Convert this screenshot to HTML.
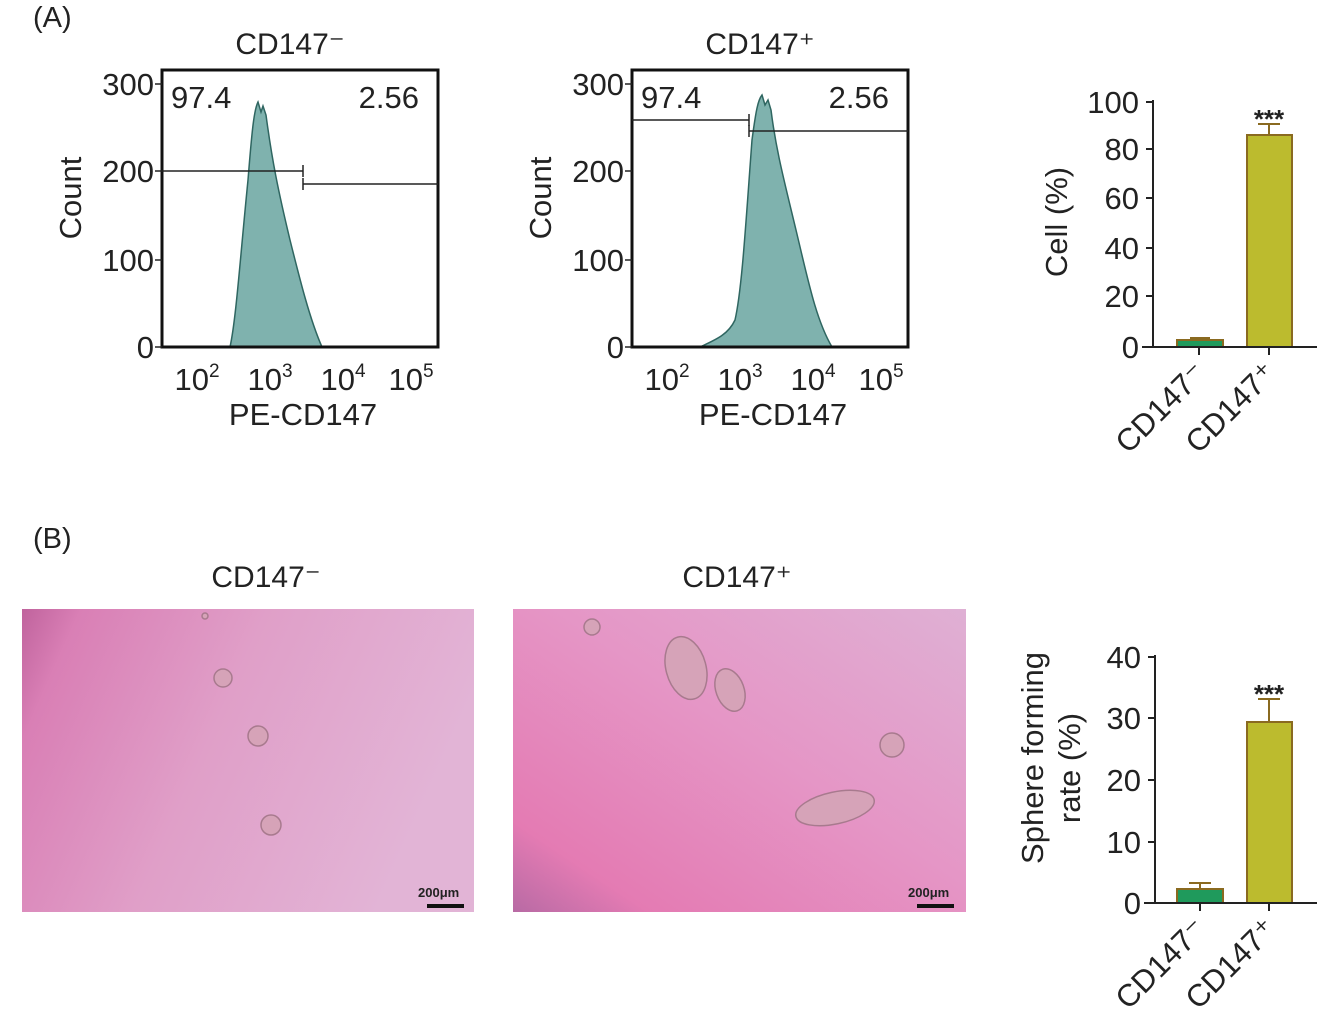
<!DOCTYPE html>
<html><head><meta charset="utf-8"><style>
body{margin:0;background:#fff}
svg text{font-family:"Liberation Sans",sans-serif;fill:#222}
</style></head><body>
<svg width="1321" height="1015" viewBox="0 0 1321 1015" xmlns="http://www.w3.org/2000/svg">
<defs>
<linearGradient id="g1" x1="0" y1="0" x2="1" y2="0.3">
<stop offset="0" stop-color="#c0639d"/><stop offset="0.12" stop-color="#d97fb5"/><stop offset="0.5" stop-color="#e09fc8"/><stop offset="1" stop-color="#e2b4d6"/></linearGradient>
<linearGradient id="g2" x1="0" y1="1" x2="1" y2="0">
<stop offset="0" stop-color="#b86aa4"/><stop offset="0.15" stop-color="#e47bb3"/><stop offset="0.55" stop-color="#e596c6"/><stop offset="1" stop-color="#dfb0d4"/></linearGradient>
</defs>
<g font-size="29">
<text x="33" y="27">(A)</text>
<text x="33" y="548">(B)</text>
</g>
<!-- Histogram 1 -->
<g>
<text x="290" y="54" font-size="30" text-anchor="middle">CD147⁻</text>
<path d="M230,347 C236,320 240,260 248,180 C252,130 254,110 258,102 L261,112 L263,106 L266,115 C272,160 278,190 290,240 C300,280 310,320 322,347 Z" fill="#7fb2ae" stroke="#2f6661" stroke-width="1.5"/>
<rect x="162" y="70" width="276" height="277" fill="none" stroke="#111" stroke-width="3"/>
<g stroke="#222" stroke-width="1.5">
<line x1="162" y1="171" x2="303" y2="171"/><line x1="303" y1="165" x2="303" y2="177"/>
<line x1="303" y1="184" x2="438" y2="184"/><line x1="303" y1="178" x2="303" y2="190"/>
<line x1="155" y1="84" x2="162" y2="84"/><line x1="155" y1="171" x2="162" y2="171"/><line x1="155" y1="260" x2="162" y2="260"/><line x1="155" y1="347" x2="162" y2="347"/>
</g>
<g font-size="31" text-anchor="end"><text x="154" y="95">300</text><text x="154" y="182">200</text><text x="154" y="271">100</text><text x="154" y="358">0</text></g>
<text x="171" y="108" font-size="31">97.4</text><text x="419" y="108" font-size="31" text-anchor="end">2.56</text>
<g font-size="31" text-anchor="middle"><text x="197" y="390">10<tspan font-size="19" dy="-13">2</tspan></text><text x="270" y="390">10<tspan font-size="19" dy="-13">3</tspan></text><text x="343" y="390">10<tspan font-size="19" dy="-13">4</tspan></text><text x="411" y="390">10<tspan font-size="19" dy="-13">5</tspan></text></g>
<text x="303" y="425" font-size="31" text-anchor="middle">PE-CD147</text>
<text transform="translate(81,198) rotate(-90)" font-size="31" text-anchor="middle">Count</text>
</g>
<!-- Histogram 2 -->
<g>
<text x="760" y="54" font-size="30" text-anchor="middle">CD147⁺</text>
<path d="M700,347 C715,340 728,335 735,320 C742,290 746,220 752,140 C756,110 758,100 762,95 L765,105 L768,100 L771,110 C776,150 784,180 796,230 C808,280 816,320 832,347 Z" fill="#7fb2ae" stroke="#2f6661" stroke-width="1.5"/>
<rect x="632" y="70" width="276" height="277" fill="none" stroke="#111" stroke-width="3"/>
<g stroke="#222" stroke-width="1.5">
<line x1="632" y1="120" x2="749" y2="120"/><line x1="749" y1="114" x2="749" y2="126"/>
<line x1="749" y1="131" x2="908" y2="131"/><line x1="749" y1="125" x2="749" y2="137"/>
<line x1="625" y1="84" x2="632" y2="84"/><line x1="625" y1="171" x2="632" y2="171"/><line x1="625" y1="260" x2="632" y2="260"/><line x1="625" y1="347" x2="632" y2="347"/>
</g>
<g font-size="31" text-anchor="end"><text x="624" y="95">300</text><text x="624" y="182">200</text><text x="624" y="271">100</text><text x="624" y="358">0</text></g>
<text x="641" y="108" font-size="31">97.4</text><text x="889" y="108" font-size="31" text-anchor="end">2.56</text>
<g font-size="31" text-anchor="middle"><text x="667" y="390">10<tspan font-size="19" dy="-13">2</tspan></text><text x="740" y="390">10<tspan font-size="19" dy="-13">3</tspan></text><text x="813" y="390">10<tspan font-size="19" dy="-13">4</tspan></text><text x="881" y="390">10<tspan font-size="19" dy="-13">5</tspan></text></g>
<text x="773" y="425" font-size="31" text-anchor="middle">PE-CD147</text>
<text transform="translate(551,198) rotate(-90)" font-size="31" text-anchor="middle">Count</text>
</g>
<!-- Bar A -->
<g>
<rect x="1177" y="340" width="46" height="7" fill="#1f9a5c" stroke="#8a6a20" stroke-width="2"/>
<line x1="1190" y1="338" x2="1210" y2="338" stroke="#8a6a20" stroke-width="2"/>
<line x1="1269" y1="124" x2="1269" y2="135" stroke="#8a6a20" stroke-width="2"/><line x1="1258" y1="124" x2="1280" y2="124" stroke="#8a6a20" stroke-width="2"/>
<rect x="1247" y="135" width="45" height="212" fill="#bcbb2e" stroke="#8a6a20" stroke-width="2"/>
<g stroke="#222" stroke-width="2"><line x1="1153" y1="100" x2="1153" y2="347"/><line x1="1142" y1="347" x2="1317" y2="347"/>
<line x1="1146" y1="102" x2="1153" y2="102"/><line x1="1146" y1="149" x2="1153" y2="149"/><line x1="1146" y1="198" x2="1153" y2="198"/><line x1="1146" y1="248" x2="1153" y2="248"/><line x1="1146" y1="296" x2="1153" y2="296"/>
<line x1="1199" y1="347" x2="1199" y2="355"/><line x1="1269" y1="347" x2="1269" y2="355"/></g>
<g font-size="31" text-anchor="end"><text x="1139" y="113">100</text><text x="1139" y="160">80</text><text x="1139" y="209">60</text><text x="1139" y="259">40</text><text x="1139" y="307">20</text><text x="1139" y="358">0</text></g>
<text x="1269" y="128" font-size="26" text-anchor="middle" font-weight="bold">***</text>
<text transform="translate(1067,222) rotate(-90)" font-size="31" text-anchor="middle">Cell (%)</text>
<text transform="translate(1208,375) rotate(-45)" font-size="31" text-anchor="end">CD147⁻</text>
<text transform="translate(1278,375) rotate(-45)" font-size="31" text-anchor="end">CD147⁺</text>
</g>
<!-- Panel B images -->
<text x="266" y="587" font-size="30" text-anchor="middle">CD147⁻</text>
<text x="737" y="587" font-size="30" text-anchor="middle">CD147⁺</text>
<rect x="22" y="609" width="452" height="303" fill="url(#g1)"/>
<rect x="513" y="609" width="453" height="303" fill="url(#g2)"/>
<g fill="#d6a3b8" stroke="#a87a8e" stroke-width="1.5">
<circle cx="223" cy="678" r="9"/><circle cx="258" cy="736" r="10"/><circle cx="271" cy="825" r="10"/><circle cx="205" cy="616" r="3"/>
<circle cx="592" cy="627" r="8"/><ellipse cx="686" cy="668" rx="20" ry="32" transform="rotate(-15 686 668)"/><ellipse cx="730" cy="690" rx="14" ry="22" transform="rotate(-20 730 690)"/><circle cx="892" cy="745" r="12"/><ellipse cx="835" cy="808" rx="40" ry="16" transform="rotate(-12 835 808)"/>
</g>
<g font-size="13" font-weight="bold"><text x="418" y="897">200μm</text><text x="908" y="897">200μm</text></g>
<rect x="427" y="904" width="37" height="4" fill="#111"/><rect x="917" y="904" width="37" height="4" fill="#111"/>
<!-- Bar B -->
<g>
<rect x="1177" y="889" width="46" height="14" fill="#1f9a5c" stroke="#8a6a20" stroke-width="2"/>
<line x1="1200" y1="883" x2="1200" y2="889" stroke="#8a6a20" stroke-width="2"/><line x1="1189" y1="883" x2="1211" y2="883" stroke="#8a6a20" stroke-width="2"/>
<line x1="1269" y1="699" x2="1269" y2="722" stroke="#8a6a20" stroke-width="2"/><line x1="1258" y1="699" x2="1280" y2="699" stroke="#8a6a20" stroke-width="2"/>
<rect x="1247" y="722" width="45" height="181" fill="#bcbb2e" stroke="#8a6a20" stroke-width="2"/>
<g stroke="#222" stroke-width="2"><line x1="1155" y1="655" x2="1155" y2="903"/><line x1="1144" y1="903" x2="1317" y2="903"/>
<line x1="1148" y1="657" x2="1155" y2="657"/><line x1="1148" y1="718" x2="1155" y2="718"/><line x1="1148" y1="780" x2="1155" y2="780"/><line x1="1148" y1="842" x2="1155" y2="842"/>
<line x1="1200" y1="903" x2="1200" y2="911"/><line x1="1269" y1="903" x2="1269" y2="911"/></g>
<g font-size="31" text-anchor="end"><text x="1141" y="668">40</text><text x="1141" y="729">30</text><text x="1141" y="791">20</text><text x="1141" y="853">10</text><text x="1141" y="914">0</text></g>
<text x="1269" y="703" font-size="26" text-anchor="middle" font-weight="bold">***</text>
<text transform="translate(1043,758) rotate(-90)" font-size="31" text-anchor="middle">Sphere forming</text>
<text transform="translate(1080,768) rotate(-90)" font-size="31" text-anchor="middle">rate  (%)</text>
<text transform="translate(1208,931) rotate(-45)" font-size="31" text-anchor="end">CD147⁻</text>
<text transform="translate(1278,931) rotate(-45)" font-size="31" text-anchor="end">CD147⁺</text>
</g>
</svg>
</body></html>
